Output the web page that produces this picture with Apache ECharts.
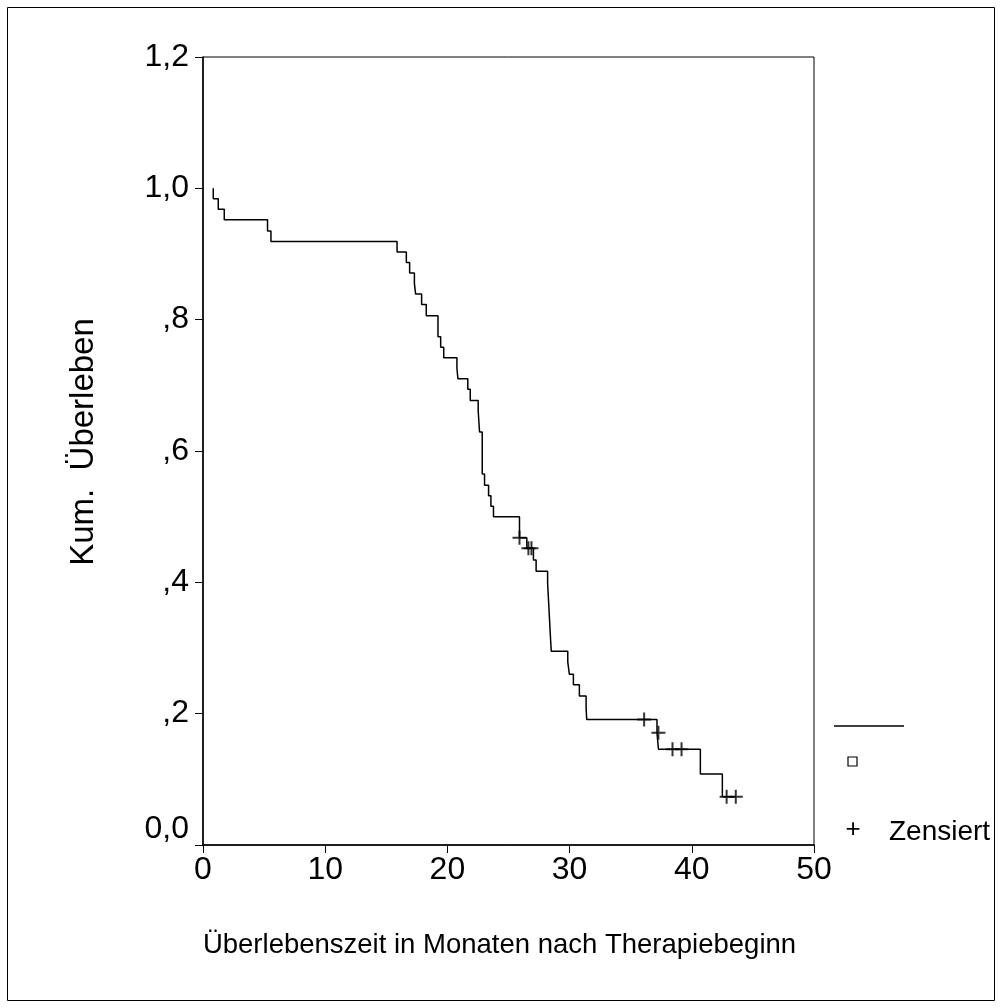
<!DOCTYPE html>
<html>
<head>
<meta charset="utf-8">
<script src="https://cdn.jsdelivr.net/npm/echarts@6/dist/echarts.min.js"></script>
<style>
html,body{margin:0;padding:0;background:#fff;}
#chart{width:1002px;height:1008px;}
</style>
</head>
<body>
<div id="chart"></div>
<script>
// Kaplan-Meier curve: event times (months) and survival after each drop
const startTime = 0.84;
const startSurv = 1.0;
const eventTimes = [0.84, 1.25, 1.74, 5.28, 5.56, 15.88, 16.64, 16.91, 17.3, 17.4, 17.89, 18.27, 19.23, 19.45, 19.7, 20.78, 20.86, 21.67, 21.87, 22.52, 22.63, 22.85, 23.04, 23.37, 23.56, 23.77, 25.9, 26.5, 27.04, 27.26, 28.2, 28.25, 28.3, 28.35, 28.4, 28.45, 28.5, 29.85, 29.98, 30.31, 30.8, 31.35, 31.4, 37.15, 37.27, 40.7, 42.5];
const eventSurv = [0.984, 0.968, 0.952, 0.935, 0.919, 0.903, 0.887, 0.871, 0.855, 0.839, 0.823, 0.806, 0.774, 0.758, 0.742, 0.726, 0.710, 0.694, 0.677, 0.661, 0.629, 0.565, 0.548, 0.532, 0.516, 0.500, 0.468, 0.452, 0.434, 0.417, 0.399, 0.381, 0.364, 0.346, 0.328, 0.311, 0.295, 0.279, 0.260, 0.244, 0.227, 0.209, 0.191, 0.171, 0.146, 0.108, 0.0736];
const endTime = 43.6;
// censored observations
const censorTimes = [25.9, 26.63, 26.88, 36.1, 37.27, 38.42, 39.16, 42.85, 43.6];
const censorSurv = [0.468, 0.452, 0.452, 0.191, 0.171, 0.146, 0.146, 0.0736, 0.0736];
// axis ticks
const yTickLabels = ['0,0', ',2', ',4', ',6', ',8', '1,0', '1,2'];
const xTickLabels = ['0', '10', '20', '30', '40', '50'];

const curve = [[startTime, startSurv]];
eventTimes.forEach((t, i) => curve.push([t, eventSurv[i]]));
curve.push([endTime, eventSurv[eventSurv.length - 1]]);
const censored = censorTimes.map((t, i) => [t, censorSurv[i]]);

const FONT = 'Liberation Sans, Arial, sans-serif';
const chart = echarts.init(document.getElementById('chart'), null, {renderer: 'canvas'});
chart.setOption({
  animation: false,
  backgroundColor: '#fff',
  grid: {left: 203, right: 188, top: 57, bottom: 163, show: true, borderColor: '#000', borderWidth: 1, backgroundColor: 'transparent'},
  xAxis: {
    type: 'value', min: 0, max: 50, interval: 10,
    name: 'Überlebenszeit in Monaten nach Therapiebeginn',
    nameLocation: 'middle', nameGap: 86,
    nameTextStyle: {fontFamily: FONT, fontSize: 27.5, color: '#000', padding: [0, 18, 0, 0]},
    axisLine: {show: true, onZero: false, lineStyle: {color: '#000', width: 1.5}},
    axisTick: {show: true, inside: false, length: 8, lineStyle: {color: '#000', width: 1}},
    axisLabel: {margin: 9, fontFamily: FONT, fontSize: 32, color: '#000',
      formatter: v => xTickLabels[Math.round(v / 10)]},
    splitLine: {show: false}
  },
  yAxis: {
    type: 'value', min: 0, max: 1.2, interval: 0.2,
    name: 'Kum.  Überleben',
    nameLocation: 'middle', nameGap: 103, nameRotate: 90,
    nameTextStyle: {fontFamily: FONT, fontSize: 33, color: '#000', padding: [0, 0, 0, 18]},
    axisLine: {show: true, onZero: false, lineStyle: {color: '#000', width: 1.5}},
    axisTick: {show: true, inside: false, length: 8, lineStyle: {color: '#000', width: 1}},
    axisLabel: {margin: 14, fontFamily: FONT, fontSize: 32, color: '#000',
      verticalAlignMinLabel: 'bottom',
      formatter: v => yTickLabels[Math.round(v / 0.2)]},
    splitLine: {show: false}
  },
  series: [
    {
      type: 'line', data: curve, step: 'end', showSymbol: false, symbol: 'none',
      lineStyle: {color: '#000', width: 1.5}, silent: true
    },
    {
      type: 'scatter', data: censored,
      symbol: 'path://M6,0H8V6H14V8H8V14H6V8H0V6H6Z', symbolSize: 14,
      itemStyle: {color: '#000'}, silent: true
    }
  ],
  graphic: [
    {type: 'rect', shape: {x: 7.5, y: 7.5, width: 987, height: 993}, style: {fill: 'none', stroke: '#000', lineWidth: 1}},
    {type: 'line', shape: {x1: 834, y1: 726, x2: 904, y2: 726}, style: {stroke: '#000', lineWidth: 1.5}},
    {type: 'rect', shape: {x: 848, y: 757, width: 9, height: 9}, style: {fill: 'none', stroke: '#000', lineWidth: 1.2}},
    {type: 'text', x: 853, y: 830, style: {text: '+', fontFamily: FONT, fontSize: 26, fill: '#000', align: 'center', verticalAlign: 'middle'}},
    {type: 'text', x: 889, y: 832, style: {text: 'Zensiert', fontFamily: FONT, fontSize: 28, fill: '#000', align: 'left', verticalAlign: 'middle'}}
  ]
});
</script>
</body>
</html>
